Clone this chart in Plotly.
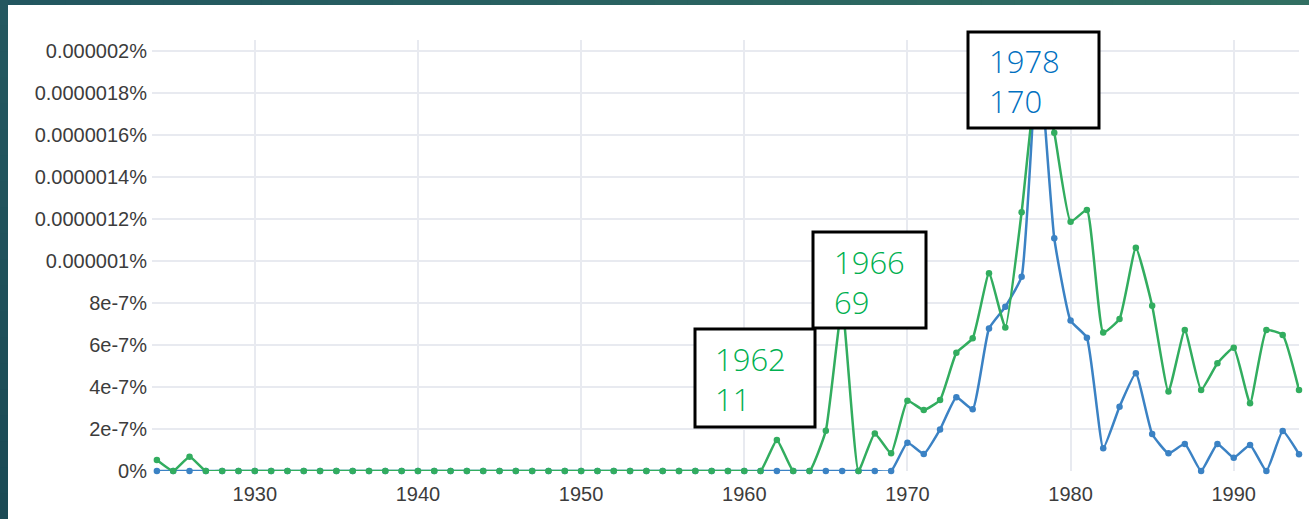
import plotly.graph_objects as go

# ---------------- data (values in units of 1e-7 %) ----------------
years = list(range(1924, 1995))

blue_early = [0.0] * 46  # 1924 .. 1969
blue_late = [
    # 1970 .. 1994
    1.35, 0.81, 1.98, 3.51, 2.94, 6.79, 7.82, 9.25, 20.2, 11.08,
    7.16, 6.35, 1.08, 3.06, 4.65, 1.76, 0.84, 1.29, 0.0, 1.29,
    0.63, 1.24, 0.0, 1.90, 0.80,
]
blue_vals = blue_early + blue_late

green_early = [0.52, 0.0, 0.68] + [0.0] * 35  # 1924 .. 1961
green_late = [
    # 1962 .. 1994
    1.48, 0.0, 0.0, 1.92, 7.85, 0.0, 1.79, 0.84, 3.35, 2.90,
    3.38, 5.63, 6.32, 9.41, 6.83, 12.32, 18.9, 16.1, 11.87, 12.43,
    6.59, 7.24, 10.63, 7.87, 3.78, 6.71, 3.86, 5.13, 5.87, 3.22,
    6.71, 6.48, 3.86,
]
green_vals = green_early + green_late

y_tickvals = [0, 2, 4, 6, 8, 10, 12, 14, 16, 18, 20]
y_ticktext = ["0%", "2e-7%", "4e-7%", "6e-7%", "8e-7%", "0.000001%",
              "0.0000012%", "0.0000014%", "0.0000016%", "0.0000018%", "0.000002%"]
x_tickvals = [1930, 1940, 1950, 1960, 1970, 1980, 1990]

callouts = [
    {"text": "1962<br>11", "color": "#00b050"},
    {"text": "1966<br>69", "color": "#00b050"},
    {"text": "1978<br>170", "color": "#0070c0"},
]

# ---------------- layout geometry (pixels) ----------------
W, H = 1309, 519
PL, PR, PT, PB = 152, 1299, 40, 471


def px(x):
    return (x - PL) / (PR - PL)


def py(y):
    return (PB - y) / (PB - PT)


fig = go.Figure()

fig.add_trace(go.Scatter(
    x=years, y=blue_vals, mode="lines+markers",
    line=dict(color="#3b82c4", width=2.5, shape="spline", smoothing=0.4),
    marker=dict(size=6.5, color="#3b82c4"),
    cliponaxis=False, showlegend=False,
))
fig.add_trace(go.Scatter(
    x=years, y=green_vals, mode="lines+markers",
    line=dict(color="#32ad5f", width=2.5, shape="spline", smoothing=0.4),
    marker=dict(size=6.5, color="#32ad5f"),
    cliponaxis=False, showlegend=False,
))

shapes = []


def lerp_color(c1, c2, t):
    a = [int(c1[i:i + 2], 16) for i in (1, 3, 5)]
    b = [int(c2[i:i + 2], 16) for i in (1, 3, 5)]
    return "#" + "".join("%02x" % round(a[k] + (b[k] - a[k]) * t) for k in range(3))


# top teal band (gradient)
N = 40
for i in range(N):
    x0 = W * i / N
    x1 = W * (i + 1) / N + 1
    shapes.append(dict(type="rect", xref="paper", yref="paper",
                       x0=px(x0), x1=px(x1), y0=py(5), y1=py(0),
                       fillcolor=lerp_color("#225660", "#316f62", i / (N - 1)),
                       line=dict(width=0), layer="above"))
# left teal band (gradient)
M = 20
for i in range(M):
    y0 = H * i / M
    y1 = H * (i + 1) / M + 1
    shapes.append(dict(type="rect", xref="paper", yref="paper",
                       x0=px(0), x1=px(8), y0=py(y1), y1=py(y0),
                       fillcolor=lerp_color("#245860", "#1b4a55", i / (M - 1)),
                       line=dict(width=0), layer="above"))

# callout boxes
boxes = [(695, 329, 815, 427), (813, 232, 926, 328), (968, 32, 1099, 128)]
text_pos = [(713, 379), (832, 282), (987, 81)]
annotations = []
for (bx0, by0, bx1, by1), (tx, ty), c in zip(boxes, text_pos, callouts):
    shapes.append(dict(type="rect", xref="paper", yref="paper",
                       x0=px(bx0), x1=px(bx1), y0=py(by1), y1=py(by0),
                       fillcolor="white", line=dict(color="black", width=3),
                       layer="above"))
    annotations.append(dict(xref="paper", yref="paper", x=px(tx), y=py(ty),
                            xanchor="left", yanchor="middle", align="left",
                            text=c["text"], showarrow=False,
                            font=dict(family="Open Sans", size=31, weight=300,
                                      color=c["color"])))

fig.update_layout(
    width=W, height=H,
    margin=dict(l=PL, r=W - PR, t=PT, b=H - PB, pad=0),
    paper_bgcolor="white", plot_bgcolor="white",
    shapes=shapes, annotations=annotations,
    font=dict(family="Liberation Sans", size=20, color="#3c3c3c"),
    xaxis=dict(range=[1923.7, 1994.0], tickvals=x_tickvals, showgrid=True,
               gridcolor="#e8eaf0", gridwidth=1.5, zeroline=False, showline=False,
               ticks="", ticklabelstandoff=9, fixedrange=True),
    yaxis=dict(range=[0, 20.52], tickvals=y_tickvals, ticktext=y_ticktext,
               showgrid=True, gridcolor="#e8eaf0", gridwidth=1.5, zeroline=False,
               showline=False, ticks="", ticklabelstandoff=4, fixedrange=True),
)

fig.write_html("out.html", config={"displayModeBar": False},
               post_script="document.body.style.margin='0';document.body.style.overflow='hidden';")
